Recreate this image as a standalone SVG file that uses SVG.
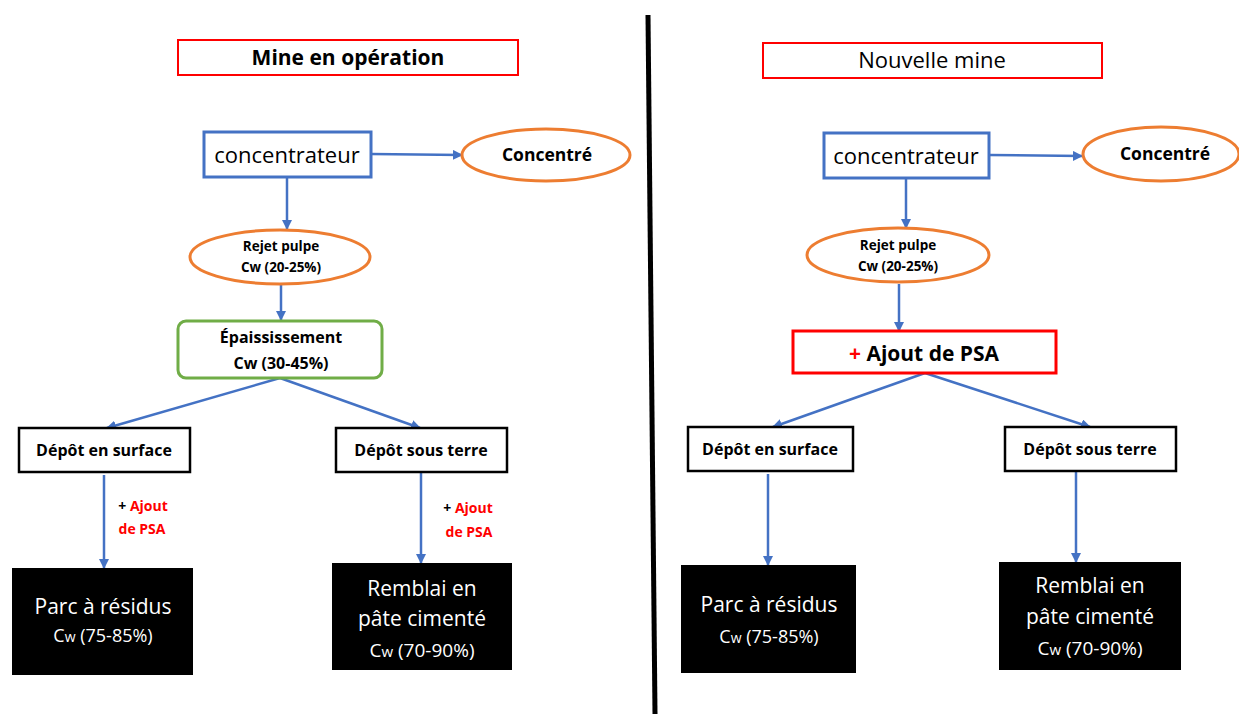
<svg xmlns="http://www.w3.org/2000/svg" width="1239" height="714" viewBox="0 0 1239 714">
<style>
text{font-family:"Open Sans","Liberation Sans",sans-serif;text-anchor:middle;fill:#000}
.b{font-weight:bold}
.w{fill:#fff}
.red{fill:#FF0000}
.conn{stroke:#4472C4;stroke-width:2.5;fill:none;marker-end:url(#ah)}
.blue{fill:#fff;stroke:#4472C4;stroke-width:3}
.org{fill:#fff;stroke:#ED7D31;stroke-width:3}
.grn{fill:#fff;stroke:#70AD47;stroke-width:3}
.rbox{fill:#fff;stroke:#FF0000;stroke-width:2}
.kbox{fill:#fff;stroke:#000;stroke-width:2.5}
.blk{fill:#000}
</style>
<defs>
<marker id="ah" viewBox="0 0 10 10" refX="9" refY="5" markerWidth="4" markerHeight="4" orient="auto" markerUnits="strokeWidth">
<path d="M0,0 L10,5 L0,10 z" fill="#4472C4"/>
</marker>
</defs>
<rect width="1239" height="714" fill="#fff"/>
<line x1="648" y1="15" x2="655" y2="714" stroke="#000" stroke-width="5"/>
<g id="connectors">
<line class="conn" x1="371" y1="154" x2="462" y2="155"/>
<line class="conn" x1="287" y1="177" x2="287" y2="229"/>
<line class="conn" x1="281" y1="284" x2="281" y2="320"/>
<line class="conn" x1="280" y1="378" x2="107" y2="428"/>
<line class="conn" x1="280" y1="378" x2="420" y2="428"/>
<line class="conn" x1="104" y1="475" x2="104" y2="568"/>
<line class="conn" x1="421" y1="472" x2="421" y2="563"/>
<line class="conn" x1="989" y1="155" x2="1082" y2="156"/>
<line class="conn" x1="906" y1="178" x2="906" y2="228"/>
<line class="conn" x1="899" y1="284" x2="899" y2="331"/>
<line class="conn" x1="925" y1="373" x2="773" y2="427"/>
<line class="conn" x1="925" y1="373" x2="1090" y2="427"/>
<line class="conn" x1="768" y1="474" x2="768" y2="565"/>
<line class="conn" x1="1076" y1="471" x2="1076" y2="562"/>
</g>
<g id="title-left"><rect class="rbox" x="178" y="40" width="340" height="35"/><text class="b" x="348" y="65" font-size="21">Mine en opération</text></g>
<g id="conc-left"><rect class="blue" x="204" y="132" width="167" height="45"/><text x="287" y="163" font-size="22">concentrateur</text></g>
<g id="concentre-left"><ellipse class="org" cx="546" cy="155" rx="84" ry="26"/><text class="b" x="547" y="161" font-size="17.5">Concentré</text></g>
<g id="rejet-left"><ellipse class="org" cx="280" cy="257" rx="90" ry="27"/><text class="b" x="281" y="251" font-size="13.5">Rejet pulpe</text><text class="b" x="281" y="272" font-size="13.5">Cw (20-25%)</text></g>
<g id="epais"><rect class="grn" x="178" y="321" width="204" height="57" rx="8"/><text class="b" x="281" y="343" font-size="16">Épaississement</text><text class="b" x="281" y="369" font-size="16">Cw (30-45%)</text></g>
<g id="surf-left"><rect class="kbox" x="19" y="428" width="171" height="44"/><text class="b" x="104" y="456" font-size="16">Dépôt en surface</text></g>
<g id="sous-left"><rect class="kbox" x="336" y="428" width="171" height="44"/><text class="b" x="421" y="456" font-size="16">Dépôt sous terre</text></g>
<g id="psa-label-1"><text class="b" font-size="14" x="143" y="511"><tspan>+ </tspan><tspan class="red">Ajout</tspan></text><text class="b red" font-size="14" x="142" y="534">de PSA</text></g>
<g id="psa-label-2"><text class="b" font-size="14" x="468" y="513"><tspan>+ </tspan><tspan class="red">Ajout</tspan></text><text class="b red" font-size="14" x="469" y="537">de PSA</text></g>
<g id="parc-left"><rect class="blk" x="12" y="568" width="181" height="107"/><text class="w" x="103" y="614" font-size="21">Parc à résidus</text><text class="w" x="103" y="642" font-size="18">C<tspan font-size="14">w</tspan> (75-85%)</text></g>
<g id="remblai-left"><rect class="blk" x="332" y="563" width="180" height="107"/><text class="w" x="422" y="596" font-size="21">Remblai en</text><text class="w" x="422" y="626" font-size="21">pâte cimenté</text><text class="w" x="422" y="657" font-size="19">C<tspan font-size="15">w</tspan> (70-90%)</text></g>
<g id="title-right"><rect class="rbox" x="763" y="43" width="339" height="35"/><text x="932" y="68" font-size="22">Nouvelle mine</text></g>
<g id="conc-right"><rect class="blue" x="824" y="133" width="165" height="45"/><text x="906" y="164" font-size="22">concentrateur</text></g>
<g id="concentre-right"><ellipse class="org" cx="1161" cy="154" rx="78" ry="27"/><text class="b" x="1165" y="160" font-size="17.5">Concentré</text></g>
<g id="rejet-right"><ellipse class="org" cx="898" cy="255" rx="91" ry="27"/><text class="b" x="898" y="250" font-size="13.5">Rejet pulpe</text><text class="b" x="898" y="271" font-size="13.5">Cw (20-25%)</text></g>
<g id="psa-box"><rect x="793" y="331" width="263" height="42" fill="#fff" stroke="#FF0000" stroke-width="3"/><text class="b" x="924" y="361" font-size="21"><tspan class="red">+</tspan> Ajout de PSA</text></g>
<g id="surf-right"><rect class="kbox" x="688" y="427" width="165" height="44"/><text class="b" x="770" y="455" font-size="16">Dépôt en surface</text></g>
<g id="sous-right"><rect class="kbox" x="1005" y="427" width="171" height="44"/><text class="b" x="1090" y="455" font-size="16">Dépôt sous terre</text></g>
<g id="parc-right"><rect class="blk" x="681" y="565" width="175" height="108"/><text class="w" x="769" y="612" font-size="21">Parc à résidus</text><text class="w" x="769" y="643" font-size="18">C<tspan font-size="14">w</tspan> (75-85%)</text></g>
<g id="remblai-right"><rect class="blk" x="999" y="562" width="182" height="108"/><text class="w" x="1090" y="593" font-size="21">Remblai en</text><text class="w" x="1090" y="624" font-size="21">pâte cimenté</text><text class="w" x="1090" y="655" font-size="19">C<tspan font-size="15">w</tspan> (70-90%)</text></g>
</svg>
